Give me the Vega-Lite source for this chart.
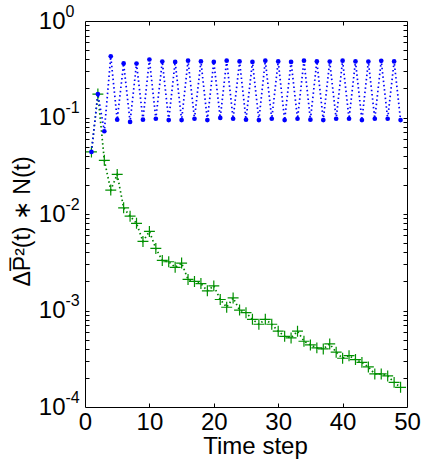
{
  "$schema": "https://vega.github.io/schema/vega-lite/v6.json",
  "width": 322,
  "height": 386,
  "autosize": {"type": "none"},
  "padding": {"left": 85, "top": 21, "right": 20, "bottom": 56},
  "config": {
    "view": {"stroke": "black", "strokeWidth": 1},
    "font": "Liberation Sans",
    "axis": {
      "labelColor": "black", "titleColor": "black", "tickColor": "black",
      "domain": false, "grid": false,
      "labelFont": "Liberation Sans", "titleFont": "Liberation Sans",
      "titleFontWeight": "normal", "labelOverlap": false, "labelFlush": false, "labelBound": false
    }
  },
  "datasets": {
    "green": [
      {"t": 1, "v": 0.044}, {"t": 2, "v": 0.175}, {"t": 3, "v": 0.036}, {"t": 4, "v": 0.0177},
      {"t": 5, "v": 0.0257}, {"t": 6, "v": 0.0116}, {"t": 7, "v": 0.0095}, {"t": 8, "v": 0.008},
      {"t": 9, "v": 0.0052}, {"t": 10, "v": 0.0066}, {"t": 11, "v": 0.0044}, {"t": 12, "v": 0.0033},
      {"t": 13, "v": 0.0032}, {"t": 14, "v": 0.0028}, {"t": 15, "v": 0.0031}, {"t": 16, "v": 0.0021},
      {"t": 17, "v": 0.002}, {"t": 18, "v": 0.0019}, {"t": 19, "v": 0.0016}, {"t": 20, "v": 0.0018},
      {"t": 21, "v": 0.0013}, {"t": 22, "v": 0.00108}, {"t": 23, "v": 0.00135}, {"t": 24, "v": 0.00101},
      {"t": 25, "v": 0.00095}, {"t": 26, "v": 0.00081}, {"t": 27, "v": 0.00072}, {"t": 28, "v": 0.00081},
      {"t": 29, "v": 0.00072}, {"t": 30, "v": 0.00061}, {"t": 31, "v": 0.00054}, {"t": 32, "v": 0.00052},
      {"t": 33, "v": 0.00061}, {"t": 34, "v": 0.00048}, {"t": 35, "v": 0.00044}, {"t": 36, "v": 0.00041},
      {"t": 37, "v": 0.0004}, {"t": 38, "v": 0.00045}, {"t": 39, "v": 0.00037}, {"t": 40, "v": 0.00032},
      {"t": 41, "v": 0.00034}, {"t": 42, "v": 0.00031}, {"t": 43, "v": 0.00029}, {"t": 44, "v": 0.00026},
      {"t": 45, "v": 0.00022}, {"t": 46, "v": 0.00022}, {"t": 47, "v": 0.00021}, {"t": 48, "v": 0.00018},
      {"t": 49, "v": 0.00016}
    ],
    "blue": [
      {"t": 1, "v": 0.044}, {"t": 2, "v": 0.175}, {"t": 3, "v": 0.072}, {"t": 4, "v": 0.43},
      {"t": 5, "v": 0.095}, {"t": 6, "v": 0.363}, {"t": 7, "v": 0.09}, {"t": 8, "v": 0.362},
      {"t": 9, "v": 0.095}, {"t": 10, "v": 0.399}, {"t": 11, "v": 0.097}, {"t": 12, "v": 0.38},
      {"t": 13, "v": 0.094}, {"t": 14, "v": 0.377}, {"t": 15, "v": 0.094}, {"t": 16, "v": 0.388},
      {"t": 17, "v": 0.097}, {"t": 18, "v": 0.381}, {"t": 19, "v": 0.094}, {"t": 20, "v": 0.377},
      {"t": 21, "v": 0.099}, {"t": 22, "v": 0.388}, {"t": 23, "v": 0.097}, {"t": 24, "v": 0.381},
      {"t": 25, "v": 0.095}, {"t": 26, "v": 0.377}, {"t": 27, "v": 0.094}, {"t": 28, "v": 0.388},
      {"t": 29, "v": 0.097}, {"t": 30, "v": 0.381}, {"t": 31, "v": 0.094}, {"t": 32, "v": 0.377},
      {"t": 33, "v": 0.097}, {"t": 34, "v": 0.388}, {"t": 35, "v": 0.095}, {"t": 36, "v": 0.381},
      {"t": 37, "v": 0.094}, {"t": 38, "v": 0.38}, {"t": 39, "v": 0.097}, {"t": 40, "v": 0.388},
      {"t": 41, "v": 0.097}, {"t": 42, "v": 0.381}, {"t": 43, "v": 0.094}, {"t": 44, "v": 0.38},
      {"t": 45, "v": 0.097}, {"t": 46, "v": 0.387}, {"t": 47, "v": 0.097}, {"t": 48, "v": 0.381},
      {"t": 49, "v": 0.094}
    ]
  },
  "resolve": {"axis": {"x": "independent", "y": "independent"}},
  "layer": [
    {
      "data": {"name": "green"},
      "mark": {"type": "line", "color": "#008000", "strokeWidth": 1.7, "strokeDash": [1.5, 2.8]},
      "encoding": {
        "x": {"field": "t", "type": "quantitative",
          "scale": {"domain": [0, 50], "nice": false, "zero": false},
          "axis": {"orient": "bottom", "values": [0, 10, 20, 30, 40, 50], "ticks": false, "labelFontSize": 24,
            "labelPadding": 3, "title": "Time step", "titleFontSize": 24, "titleX": 170, "titleY": 46,
            "titleBaseline": "alphabetic", "titleAlign": "center", "titleAnchor": null}},
        "y": {"field": "v", "type": "quantitative",
          "scale": {"type": "log", "domain": [0.0001, 1], "nice": false},
          "axis": {"orient": "left", "values": [0.0001, 0.001, 0.01, 0.1, 1], "ticks": false,
            "labelExpr": "'10'", "labelFontSize": 24, "labelAlign": "right", "labelBaseline": "middle", "labelPadding": 20,
            "title": "ΔP̅²(t) ∗ N(t)", "titleFontSize": 23, "titleAngle": 270, "titleX": -56, "titleY": 200,
            "titleBaseline": "alphabetic", "titleAlign": "center"}}
      }
    },
    {
      "data": {"name": "green"},
      "mark": {"type": "point", "shape": "M-1,0L1,0M0,-1L0,1", "filled": false, "color": "#009000", "strokeWidth": 1.2, "size": 120, "opacity": 1},
      "encoding": {
        "x": {"field": "t", "type": "quantitative",
          "axis": {"orient": "top", "values": [10, 20, 30, 40], "labels": false, "tickSize": -4, "tickWidth": 1, "title": null}},
        "y": {"field": "v", "type": "quantitative",
          "axis": {"orient": "right", "labels": false, "tickSize": -4, "tickWidth": 1, "title": null,
            "values": [0.0002, 0.0003, 0.0004, 0.0005, 0.0006, 0.0007, 0.0008, 0.0009, 0.001, 0.002, 0.003, 0.004, 0.005, 0.006, 0.007, 0.008, 0.009, 0.01, 0.02, 0.03, 0.04, 0.05, 0.06, 0.07, 0.08, 0.09, 0.1, 0.2, 0.3, 0.4, 0.5, 0.6, 0.7, 0.8, 0.9]}}
      }
    },
    {
      "data": {"name": "blue"},
      "mark": {"type": "line", "color": "#0000ff", "strokeWidth": 1.7, "strokeDash": [1.5, 2.8]},
      "encoding": {
        "x": {"field": "t", "type": "quantitative",
          "axis": {"orient": "bottom", "values": [10, 20, 30, 40], "labels": false, "tickSize": -4, "tickWidth": 1, "title": null}},
        "y": {"field": "v", "type": "quantitative",
          "axis": {"orient": "left", "labels": false, "tickSize": -4, "tickWidth": 1, "title": null,
            "values": [0.0002, 0.0003, 0.0004, 0.0005, 0.0006, 0.0007, 0.0008, 0.0009, 0.001, 0.002, 0.003, 0.004, 0.005, 0.006, 0.007, 0.008, 0.009, 0.01, 0.02, 0.03, 0.04, 0.05, 0.06, 0.07, 0.08, 0.09, 0.1, 0.2, 0.3, 0.4, 0.5, 0.6, 0.7, 0.8, 0.9]}}
      }
    },
    {
      "data": {"name": "blue"},
      "mark": {"type": "point", "shape": "circle", "filled": true, "color": "#0000ff", "size": 22, "opacity": 1},
      "encoding": {
        "x": {"field": "t", "type": "quantitative", "axis": null},
        "y": {"field": "v", "type": "quantitative",
          "axis": {"orient": "left", "values": [0.0001, 0.001, 0.01, 0.1, 1], "ticks": false,
            "labelExpr": "'' + round(log(datum.value) / LN10)", "labelFontSize": 16, "labelAlign": "left",
            "labelBaseline": "middle", "labelPadding": 20, "labelOffset": -10, "title": null}}
      }
    }
  ]
}
